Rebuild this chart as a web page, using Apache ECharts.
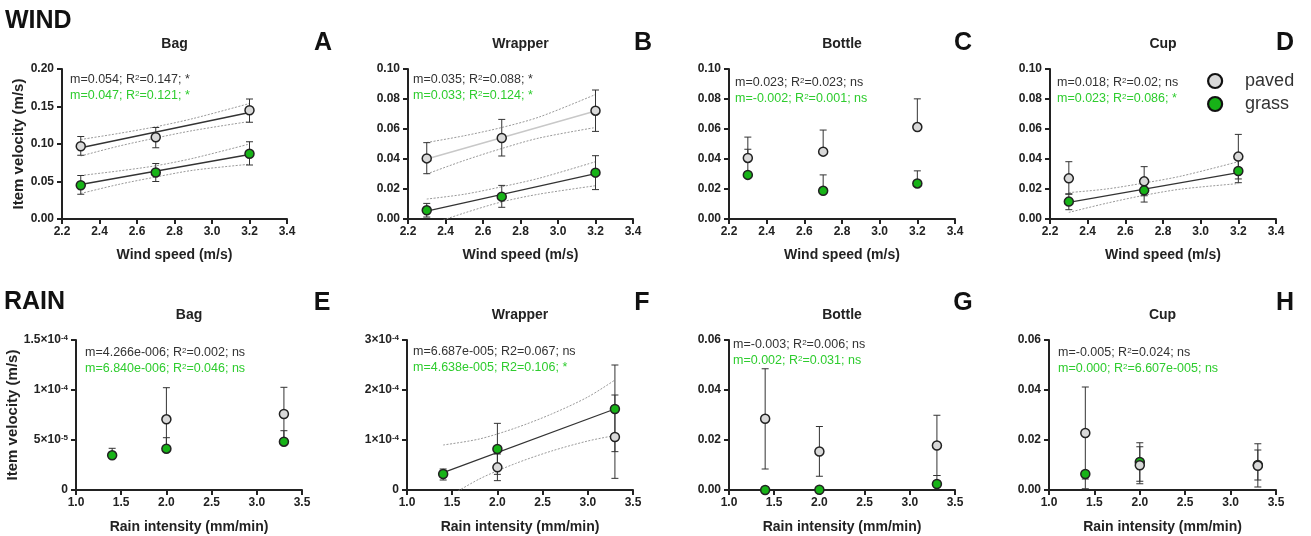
<!DOCTYPE html>
<html>
<head>
<meta charset="utf-8">
<script src="https://cdn.jsdelivr.net/npm/echarts@6/dist/echarts.min.js"></script>
<style>html,body{margin:0;padding:0;background:#fff}#c{width:1311px;height:536px}</style>
</head>
<body>
<div id="c"></div>
<script>
// ---------------- DATA ----------------
const windX = [2.3, 2.7, 3.2];
const rainX = [1.4, 2.0, 3.3];

const panelTitles = ['Bag', 'Wrapper', 'Bottle', 'Cup', 'Bag', 'Wrapper', 'Bottle', 'Cup'];
const panelLetters = ['A', 'B', 'C', 'D', 'E', 'F', 'G', 'H'];
const rowLabels = ['WIND', 'RAIN'];
const xNames = ['Wind speed (m/s)', 'Rain intensity (mm/min)'];
const yName = 'Item velocity (m/s)';
const legendNames = ['paved', 'grass'];

const notesPaved = [
  'm=0.054; R{s|2}=0.147; *', 'm=0.035; R{s|2}=0.088; *', 'm=0.023; R{s|2}=0.023; ns', 'm=0.018; R{s|2}=0.02; ns',
  'm=4.266e-006; R{s|2}=0.002; ns', 'm=6.687e-005; R2=0.067; ns', 'm=-0.003; R{s|2}=0.006; ns', 'm=-0.005; R{s|2}=0.024; ns'
];
const notesGrass = [
  'm=0.047; R{s|2}=0.121; *', 'm=0.033; R{s|2}=0.124; *', 'm=-0.002; R{s|2}=0.001; ns', 'm=0.023; R{s|2}=0.086; *',
  'm=6.840e-006; R{s|2}=0.046; ns', 'm=4.638e-005; R2=0.106; *', 'm=0.002; R{s|2}=0.031; ns', 'm=0.000; R{s|2}=6.607e-005; ns'
];

// y axis ranges
const yMax = [0.20, 0.10, 0.10, 0.10, 1.5e-4, 3e-4, 0.06, 0.06];
const yStep = [0.05, 0.02, 0.02, 0.02, 5e-5, 1e-4, 0.02, 0.02];
const eTickLabels = ['0', '5×10{s|-5}', '1×10{s|-4}', '1.5×10{s|-4}'];
const fTickLabels = ['0', '1×10{s|-4}', '2×10{s|-4}', '3×10{s|-4}'];

// A Bag (wind)
const aPaved = [0.097, 0.109, 0.145];
const aPavedLo = [0.085, 0.095, 0.129];
const aPavedHi = [0.110, 0.122, 0.160];
const aGrass = [0.045, 0.062, 0.087];
const aGrassLo = [0.033, 0.050, 0.072];
const aGrassHi = [0.058, 0.074, 0.103];
// B Wrapper (wind)
const bPaved = [0.0404, 0.054, 0.0722];
const bPavedLo = [0.0302, 0.042, 0.0584];
const bPavedHi = [0.0509, 0.0664, 0.086];
const bGrass = [0.0058, 0.0149, 0.0309];
const bGrassLo = [0.0013, 0.0078, 0.0196];
const bGrassHi = [0.0104, 0.0224, 0.0422];
// C Bottle (wind) - upper bars only
const cPaved = [0.0407, 0.0449, 0.0613];
const cPavedLo = [0.0407, 0.0449, 0.0613];
const cPavedHi = [0.0546, 0.0593, 0.0801];
const cGrass = [0.0294, 0.0188, 0.0237];
const cGrassLo = [0.0294, 0.0188, 0.0237];
const cGrassHi = [0.0465, 0.0294, 0.0321];
// D Cup (wind)
const dPaved = [0.0271, 0.0251, 0.0416];
const dPavedLo = [0.0165, 0.0155, 0.0267];
const dPavedHi = [0.0382, 0.0349, 0.0564];
const dGrass = [0.0116, 0.0191, 0.0320];
const dGrassLo = [0.0062, 0.0113, 0.0242];
const dGrassHi = [0.0168, 0.0265, 0.0398];
// E Bag (rain)
const ePaved = [null, 7.07e-5, 7.6e-5];
const ePavedLo = [null, 3.9e-5, 4.93e-5];
const ePavedHi = [null, 1.023e-4, 1.027e-4];
const eGrass = [3.47e-5, 4.13e-5, 4.83e-5];
const eGrassLo = [3.47e-5, 4.13e-5, 4.83e-5];
const eGrassHi = [4.17e-5, 5.23e-5, 5.93e-5];
// F Wrapper (rain)
const fPaved = [null, 4.53e-5, 1.06e-4];
const fPavedLo = [null, 1.87e-5, 2.33e-5];
const fPavedHi = [null, 7.2e-5, 1.9e-4];
const fGrass = [3.2e-5, 8.2e-5, 1.62e-4];
const fGrassLo = [2.0e-5, 3.13e-5, 7.67e-5];
const fGrassHi = [4.2e-5, 1.333e-4, 2.5e-4];
// G Bottle (rain)
const gPaved = [0.0285, 0.0154, 0.0178];
const gPavedLo = [0.0084, 0.0055, 0.0058];
const gPavedHi = [0.0485, 0.0254, 0.0299];
const gGrass = [0.0, 0.0001, 0.0024];
const gGrassLo = [0.0, 0.0001, 0.0024];
const gGrassHi = [0.0, 0.0001, 0.0058];
// H Cup (rain)
const hPaved = [0.0228, 0.0099, 0.0097];
const hPavedLo = [0.0044, 0.0025, 0.0012];
const hPavedHi = [0.0412, 0.0173, 0.0185];
const hGrass = [0.0064, 0.0112, 0.0100];
const hGrassLo = [0.0005, 0.0035, 0.0040];
const hGrassHi = [0.0064, 0.0189, 0.0160];

// regression fits
const windFitX = [2.3, 3.2];
const rainFitX = [1.4, 3.3];
const aPavedFit = [0.095, 0.142];
const aGrassFit = [0.046, 0.086];
const bPavedFit = [0.040, 0.072];
const bGrassFit = [0.0053, 0.0302];
const dGrassFit = [0.0111, 0.0309];
const fGrassFit = [3.47e-5, 1.62e-4];

// confidence bands
const windBandX = [2.3, 2.5, 2.7, 2.9, 3.2];
const rainBandX = [1.4, 1.8, 2.2, 2.6, 3.0, 3.3];
const aPavedUp = [0.106, 0.114, 0.123, 0.134, 0.154];
const aPavedDn = [0.084, 0.097, 0.108, 0.118, 0.130];
const aGrassUp = [0.058, 0.064, 0.071, 0.081, 0.100];
const aGrassDn = [0.034, 0.046, 0.056, 0.065, 0.073];
const bPavedUp = [0.051, 0.0555, 0.061, 0.068, 0.083];
const bPavedDn = [0.030, 0.039, 0.047, 0.054, 0.061];
const bGrassUp = [0.0133, 0.0165, 0.0215, 0.0272, 0.0382];
const bGrassDn = [-0.0045, 0.004, 0.0114, 0.0166, 0.0222];
const dGrassUp = [0.0176, 0.0200, 0.0240, 0.0287, 0.0382];
const dGrassDn = [0.0044, 0.0105, 0.0158, 0.0200, 0.0236];
const fGrassUp = [9.0e-5, 1.02e-4, 1.24e-4, 1.52e-4, 1.86e-4, 2.2e-4];
const fGrassDn = [-2.0e-5, 2.2e-5, 5.3e-5, 7.8e-5, 9.8e-5, 1.09e-4];

// ---------------- LAYOUT / STYLE ----------------
const FONT = "'Liberation Sans', Arial, Helvetica, sans-serif";
const INK = '#222';
const TXT = '#333';
const GREEN_TXT = '#2ecc2e';
const GREEN_FILL = '#17b317';
const GRAY_FILL = '#d9d9d9';
const grids = [
  {left: 62, top: 69, width: 225, height: 150},
  {left: 408, top: 69, width: 225, height: 150},
  {left: 729, top: 69, width: 226, height: 150},
  {left: 1050, top: 69, width: 226, height: 150},
  {left: 76, top: 340, width: 226, height: 150},
  {left: 407, top: 340, width: 226, height: 150},
  {left: 729, top: 340, width: 226, height: 150},
  {left: 1049, top: 340, width: 227, height: 150}
];
const letterPos = [[323,43],[643,43],[963,43],[1285,43],[322,303],[642,303],[963,303],[1285,303]];
const notePos = [[70,80],[413,80],[735,83],[1057,83],[85,353],[413,352],[733,345],[1058,353]];

const panels = [
  {paved:[aPaved,aPavedLo,aPavedHi], grass:[aGrass,aGrassLo,aGrassHi], x: windX,
   fits:[{x:windFitX, y:aPavedFit, color:'#333', up:aPavedUp, dn:aPavedDn, bx:windBandX},
         {x:windFitX, y:aGrassFit, color:'#333', up:aGrassUp, dn:aGrassDn, bx:windBandX}]},
  {paved:[bPaved,bPavedLo,bPavedHi], grass:[bGrass,bGrassLo,bGrassHi], x: windX,
   fits:[{x:windFitX, y:bPavedFit, color:'#c8c8c8', up:bPavedUp, dn:bPavedDn, bx:windBandX},
         {x:windFitX, y:bGrassFit, color:'#333', up:bGrassUp, dn:bGrassDn, bx:windBandX}]},
  {paved:[cPaved,cPavedLo,cPavedHi], grass:[cGrass,cGrassLo,cGrassHi], x: windX, fits:[]},
  {paved:[dPaved,dPavedLo,dPavedHi], grass:[dGrass,dGrassLo,dGrassHi], x: windX,
   fits:[{x:windFitX, y:dGrassFit, color:'#333', up:dGrassUp, dn:dGrassDn, bx:windBandX}]},
  {paved:[ePaved,ePavedLo,ePavedHi], grass:[eGrass,eGrassLo,eGrassHi], x: rainX, fits:[]},
  {paved:[fPaved,fPavedLo,fPavedHi], grass:[fGrass,fGrassLo,fGrassHi], x: rainX,
   fits:[{x:rainFitX, y:fGrassFit, color:'#333', up:fGrassUp, dn:fGrassDn, bx:rainBandX}]},
  {paved:[gPaved,gPavedLo,gPavedHi], grass:[gGrass,gGrassLo,gGrassHi], x: rainX, fits:[]},
  {paved:[hPaved,hPavedLo,hPavedHi], grass:[hGrass,hGrassLo,hGrassHi], x: rainX, fits:[]}
];

const supRich = {s: {fontSize: 8, verticalAlign: 'top', fontFamily: FONT, fontWeight: 'bold', color: INK, lineHeight: 12}};

const xAxes = [], yAxes = [], series = [], graphics = [];

function zip(xs, ys) { return xs.map((x, i) => [x, ys[i]]); }

function errorRender(params, api) {
  const x = api.value(0), lo = api.value(1), hi = api.value(2);
  const pLo = api.coord([x, lo]);
  const pHi = api.coord([x, hi]);
  const w = 3.5;
  const st = {stroke: '#333', lineWidth: 1};
  return {type: 'group', children: [
    {type: 'line', shape: {x1: pLo[0], y1: pLo[1], x2: pHi[0], y2: pHi[1]}, style: st},
    {type: 'line', shape: {x1: pHi[0]-w, y1: pHi[1], x2: pHi[0]+w, y2: pHi[1]}, style: st},
    {type: 'line', shape: {x1: pLo[0]-w, y1: pLo[1], x2: pLo[0]+w, y2: pLo[1]}, style: st}
  ]};
}

panels.forEach((p, i) => {
  const row = i < 4 ? 0 : 1;
  const axisCommon = {
    gridIndex: i,
    axisLine: {show: true, onZero: false, lineStyle: {color: INK, width: 2}},
    axisTick: {show: true, length: 5, lineStyle: {color: INK, width: 2}},
    splitLine: {show: false},
  };
  xAxes.push(Object.assign({}, axisCommon, {
    type: 'value',
    min: row === 0 ? 2.2 : 1.0, max: row === 0 ? 3.4 : 3.5, interval: row === 0 ? 0.2 : 0.5,
    name: xNames[row], nameLocation: 'middle', nameGap: row === 0 ? 29 : 30,
    nameTextStyle: {fontFamily: FONT, fontWeight: 'bold', fontSize: 14, color: INK},
    axisLabel: {fontFamily: FONT, fontWeight: 'bold', fontSize: 12, color: INK, margin: 7,
      formatter: v => v.toFixed(1)}
  }));
  let yLabel;
  if (i === 4) yLabel = (v, idx) => eTickLabels[idx];
  else if (i === 5) yLabel = (v, idx) => fTickLabels[idx];
  else yLabel = v => v.toFixed(2);
  const ya = Object.assign({}, axisCommon, {
    type: 'value', min: 0, max: yMax[i], interval: yStep[i],
    axisLabel: {fontFamily: FONT, fontWeight: 'bold', fontSize: 12, color: INK, margin: 8,
      formatter: yLabel, rich: supRich}
  });
  if (i === 0 || i === 4) {
    ya.name = yName; ya.nameLocation = 'middle'; ya.nameGap = (i === 0 ? 36 : 50);
    ya.nameTextStyle = {fontFamily: FONT, fontWeight: 'bold', fontSize: 15, color: INK};
  }
  yAxes.push(ya);

  // fits & bands
  p.fits.forEach(f => {
    [f.up, f.dn].forEach(b => {
      series.push({type: 'line', xAxisIndex: i, yAxisIndex: i, data: zip(f.bx, b), smooth: 0.3,
        symbol: 'none', silent: true, z: 1, clip: true,
        lineStyle: {color: '#9a9a9a', width: 1, type: [2, 1.5]}});
    });
    series.push({type: 'line', xAxisIndex: i, yAxisIndex: i, data: zip(f.x, f.y),
      symbol: 'none', silent: true, z: 2, clip: true,
      lineStyle: {color: f.color, width: 1.3}});
  });

  // error bars
  [p.grass, p.paved].forEach(s => {
    const d = [];
    p.x.forEach((x, k) => { if (s[0][k] != null) d.push([x, s[1][k], s[2][k]]); });
    series.push({type: 'custom', xAxisIndex: i, yAxisIndex: i, renderItem: errorRender,
      data: d, encode: {x: 0, y: [1, 2]}, z: 3, silent: true, clip: true});
  });

  // markers
  series.push({type: 'scatter', name: 'grass', xAxisIndex: i, yAxisIndex: i, z: 4, clip: false,
    data: p.x.map((x, k) => p.grass[0][k] == null ? null : [x, p.grass[0][k]]).filter(Boolean),
    symbol: 'circle', symbolSize: 9,
    itemStyle: {color: GREEN_FILL, borderColor: INK, borderWidth: 1.5, opacity: 1}});
  series.push({type: 'scatter', name: 'paved', xAxisIndex: i, yAxisIndex: i, z: 5, clip: false,
    data: p.x.map((x, k) => p.paved[0][k] == null ? null : [x, p.paved[0][k]]).filter(Boolean),
    symbol: 'circle', symbolSize: 9,
    itemStyle: {color: GRAY_FILL, borderColor: INK, borderWidth: 1.5, opacity: 1}});

  // texts
  const g = grids[i];
  graphics.push({type: 'text', x: g.left + g.width / 2, y: row === 0 ? 44 : 315,
    style: {text: panelTitles[i], fontFamily: FONT, fontWeight: 'bold', fontSize: 14, fill: INK,
      align: 'center', verticalAlign: 'middle'}});
  graphics.push({type: 'text', x: letterPos[i][0], y: letterPos[i][1],
    style: {text: panelLetters[i], fontFamily: FONT, fontWeight: 'bold', fontSize: 25, fill: '#111',
      align: 'center', verticalAlign: 'middle'}});
  graphics.push({type: 'text', x: notePos[i][0], y: notePos[i][1],
    style: {text: notesPaved[i], fontFamily: FONT, fontSize: 12.5, fill: TXT,
      align: 'left', verticalAlign: 'middle',
      rich: {s: {fontSize: 8, verticalAlign: 'top', fill: TXT, fontFamily: FONT}}}});
  graphics.push({type: 'text', x: notePos[i][0], y: notePos[i][1] + 16,
    style: {text: notesGrass[i], fontFamily: FONT, fontSize: 12.5, fill: GREEN_TXT,
      align: 'left', verticalAlign: 'middle',
      rich: {s: {fontSize: 8, verticalAlign: 'top', fill: GREEN_TXT, fontFamily: FONT}}}});
});

graphics.push({type: 'text', x: 5, y: 21, style: {text: rowLabels[0], fontFamily: FONT, fontWeight: 'bold',
  fontSize: 25, fill: '#111', align: 'left', verticalAlign: 'middle'}});
graphics.push({type: 'text', x: 4, y: 302, style: {text: rowLabels[1], fontFamily: FONT, fontWeight: 'bold',
  fontSize: 25, fill: '#111', align: 'left', verticalAlign: 'middle'}});

const chart = echarts.init(document.getElementById('c'), null, {renderer: 'canvas'});
chart.setOption({
  animation: false,
  backgroundColor: '#fff',
  grid: grids.map(g => Object.assign({containLabel: false}, g)),
  xAxis: xAxes,
  yAxis: yAxes,
  legend: {
    orient: 'vertical', left: 1202, top: 67, itemWidth: 14, itemHeight: 14, itemGap: 5,
    selectedMode: false,
    textStyle: {fontFamily: FONT, fontSize: 18, color: TXT, padding: [0, 0, 0, 18]},
    data: [
      {name: legendNames[0], icon: 'circle', itemStyle: {color: GRAY_FILL, borderColor: '#111', borderWidth: 2.2}},
      {name: legendNames[1], icon: 'circle', itemStyle: {color: GREEN_FILL, borderColor: '#111', borderWidth: 2.2}}
    ]
  },
  graphic: graphics,
  series: series
});
</script>
</body>
</html>
